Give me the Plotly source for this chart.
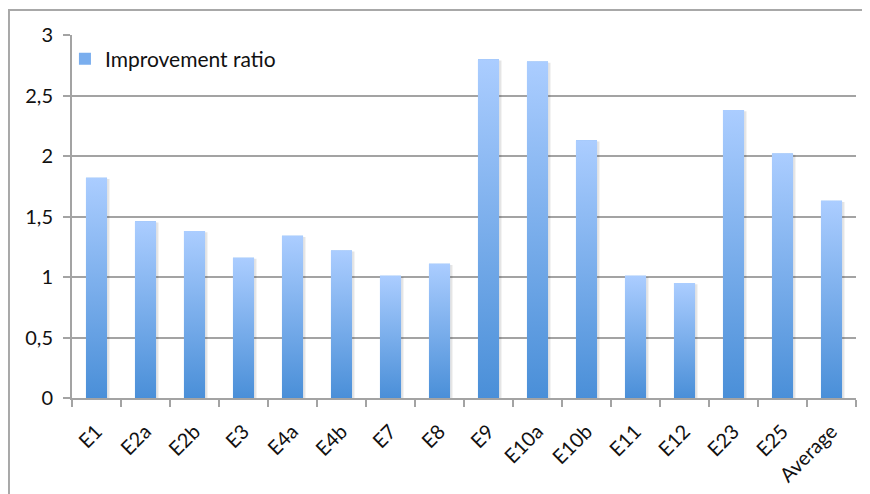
import plotly.graph_objects as go

# data
categories = ["E1", "E2a", "E2b", "E3", "E4a", "E4b", "E7", "E8", "E9",
              "E10a", "E10b", "E11", "E12", "E23", "E25", "Average"]
ratios = [1.82, 1.46, 1.38, 1.16, 1.34, 1.22, 1.01, 1.11, 2.80,
          2.78, 2.13, 1.01, 0.95, 2.38, 2.02, 1.63]
y_ticks = [0, 0.5, 1, 1.5, 2, 2.5, 3]

BAR_WIDTH = 0.43
SHADOW_DX = 0.05
TOP_COLOR = "#abcdff"
BOTTOM_COLOR = "#4a8fd8"
GRID = "#a3a3a3"
FONT = "Lato, Open Sans, sans-serif"

x_pos = list(range(len(categories)))
half = BAR_WIDTH / 2

fig = go.Figure()

# the bars themselves (solid, mostly covered by the gradient overlay)
fig.add_trace(go.Bar(
    x=x_pos, y=ratios, width=BAR_WIDTH, name="Improvement ratio",
    marker=dict(color="#7aaeee", line=dict(width=0)),
    text=categories, hoverinfo="text+y", textposition="none",
))

# soft shadow to the right of each bar
for i, v in zip(x_pos, ratios):
    fig.add_trace(go.Scatter(
        x=[i - half + SHADOW_DX, i - half + SHADOW_DX, i + half + SHADOW_DX, i + half + SHADOW_DX],
        y=[0, v - 0.01, v - 0.01, 0],
        mode="lines", line=dict(width=0), fill="toself",
        fillcolor="rgba(0,0,0,0.10)", hoverinfo="skip", showlegend=False,
    ))

# vertical gradient on each bar (light top, dark bottom)
for i, v in zip(x_pos, ratios):
    fig.add_trace(go.Scatter(
        x=[i - half, i - half, i + half, i + half, i - half],
        y=[0, v, v, 0, 0],
        mode="lines", line=dict(width=0), fill="toself",
        fillgradient=dict(type="vertical", start=0, stop=v,
                          colorscale=[[0, BOTTOM_COLOR], [1, TOP_COLOR]]),
        hoverinfo="skip", showlegend=False,
    ))

fig.update_xaxes(
    range=[-0.5, len(categories) - 0.5],
    tickmode="array", tickvals=x_pos, ticktext=categories,
    ticks="", tickangle=-45, ticklabelstandoff=12, automargin=False,
    tickfont=dict(family=FONT, size=20, color="#111"),
    showline=True, linecolor=GRID, linewidth=2,
    showgrid=False, zeroline=False,
    minor=dict(tickmode="linear", tick0=-0.5, dtick=1, ticks="outside",
               ticklen=7, tickcolor=GRID, tickwidth=2, showgrid=False),
)
fig.update_yaxes(
    range=[0, 3], tickmode="array", tickvals=y_ticks,
    ticks="outside", ticklen=7, tickcolor=GRID, tickwidth=2,
    tickfont=dict(family=FONT, size=20, color="#111"),
    showline=True, linecolor=GRID, linewidth=2, automargin=False,
    showgrid=True, gridcolor=GRID, gridwidth=2, zeroline=False,
    ticklabelstandoff=6,
)

# outer chart frame
fig.add_shape(type="rect", xref="paper", yref="paper",
              x0=-0.0804, y0=-0.3, x1=1.03, y1=1.0689,
              line=dict(color="#a8a8a8", width=2), layer="below")

fig.update_layout(
    width=862, height=486,
    margin=dict(l=64, r=14, t=27, b=96),
    plot_bgcolor="white", paper_bgcolor="white",
    separators=", ",
    showlegend=True,
    legend=dict(x=-0.009, y=0.99, xanchor="left", yanchor="top",
                bgcolor="rgba(0,0,0,0)", borderwidth=0,
                font=dict(family=FONT, size=21, color="#111")),
)

fig.write_html("out.html")
